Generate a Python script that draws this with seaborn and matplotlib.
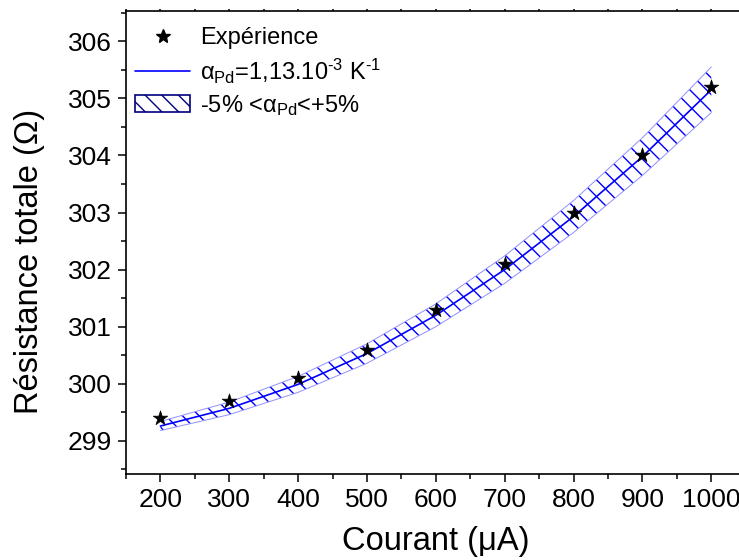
import numpy as np
import pandas as pd
import seaborn as sns
import matplotlib.pyplot as plt
from matplotlib.lines import Line2D
from matplotlib.patches import Patch
from matplotlib.ticker import MultipleLocator

# mesures
courant_exp = [200, 300, 400, 500, 600, 700, 800, 900, 1000]
resistance_exp = [299.4, 299.7, 300.1, 300.6, 301.3, 302.1, 303.0, 304.0, 305.2]

# modèle alpha_Pd = 1,13e-3 K-1 et bande +/- 5 %
courant_mod = [200, 300, 400, 500, 600, 700, 800, 900, 1000]
resistance_mod = [299.26, 299.57, 299.99, 300.53, 301.20, 302.00, 302.93, 303.98, 305.15]
resistance_haut = [299.34, 299.68, 300.13, 300.70, 301.40, 302.24, 303.21, 304.31, 305.55]
resistance_bas = [299.18, 299.46, 299.85, 300.36, 301.00, 301.76, 302.65, 303.65, 304.75]

sns.set_style("ticks")
plt.rcParams['font.family'] = ['Liberation Sans', 'DejaVu Sans']
plt.rcParams['mathtext.fontset'] = 'custom'
plt.rcParams['mathtext.rm'] = 'Liberation Sans'
plt.rcParams['mathtext.it'] = 'Liberation Sans'
plt.rcParams['hatch.linewidth'] = 1.0
plt.rcParams['text.color'] = 'black'
plt.rcParams['axes.labelcolor'] = 'black'
plt.rcParams['xtick.color'] = 'black'
plt.rcParams['ytick.color'] = 'black'
plt.rcParams['axes.edgecolor'] = 'black'

df_exp = pd.DataFrame({"I": courant_exp, "R": resistance_exp})
df_mod = pd.DataFrame({"I": courant_mod, "R": resistance_mod})

fig = plt.figure(figsize=(7.39, 5.60), dpi=100)
ax = fig.add_axes([0.1705, 0.1536, 0.8386, 0.8268])

ax.fill_between(courant_mod, resistance_bas, resistance_haut, facecolor="none",
                edgecolor="blue", hatch="\\\\", linewidth=0)
ax.plot(courant_mod, resistance_haut, color="#9090ff", lw=0.7)
ax.plot(courant_mod, resistance_bas, color="#9090ff", lw=0.7)
sns.lineplot(data=df_mod, x="I", y="R", color="blue", lw=1.2, ax=ax)
sns.scatterplot(data=df_exp, x="I", y="R", marker="*", s=120, color="black",
                edgecolor="black", linewidth=0.5, zorder=5, ax=ax)

ax.xaxis.set_minor_locator(MultipleLocator(50))
ax.yaxis.set_major_locator(MultipleLocator(1))
ax.yaxis.set_minor_locator(MultipleLocator(0.5))
ax.set_xticks(range(200, 1001, 100))
ax.set_xlim(150, 1050)
ax.set_ylim(298.42, 306.53)

ax.tick_params(axis="both", which="major", direction="out", length=6, width=1.1,
               labelsize=19, pad=4)
ax.tick_params(axis="both", which="minor", direction="out", length=3.5, width=1.1)
ax.tick_params(axis="x", which="both", top=True)
for t in ax.xaxis.get_major_ticks() + ax.xaxis.get_minor_ticks():
    t.tick2line.set_markersize(1.5)
ax.spines["right"].set_visible(False)
for s in ["left", "bottom", "top"]:
    ax.spines[s].set_linewidth(1.2)

ax.set_xlabel("Courant (μA)", fontsize=23.5)
ax.set_ylabel("Résistance totale (Ω)", fontsize=23.5)
ax.xaxis.set_label_coords(0.5, -0.112)
ax.yaxis.set_label_coords(-0.131, 0.458)

handles = [
    Line2D([], [], marker="*", color="black", linestyle="none", markersize=10),
    Line2D([], [], color="blue", lw=1.2),
    Patch(facecolor="white", edgecolor="#000080", hatch="\\\\", lw=1.2),
]
labels = ["Expérience",
          r"$\alpha_{Pd}$=1,13.10$^{\text{-3}}$ K$^{\text{-1}}$",
          r"-5% <$\alpha_{Pd}$<+5%"]
ax.legend(handles, labels, loc="upper left", bbox_to_anchor=(0.0, 0.985),
          frameon=False, fontsize=17, handlelength=2.33, handleheight=0.72,
          handletextpad=0.42, labelspacing=0.3, borderaxespad=0.0)

fig.savefig("out.png", dpi=100)
